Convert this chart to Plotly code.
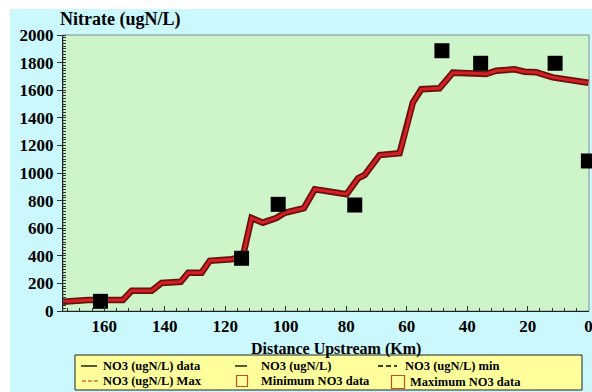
import plotly.graph_objects as go

# Model line (distance upstream km, nitrate ugN/L)
line_km = [173.6, 165.3, 153.8, 150.9, 144.3, 141.0, 134.7, 132.2, 127.8, 125.1,
           117.9, 114.2, 111.3, 107.6, 103.1, 100.3, 94.0, 90.4, 79.9, 76.1,
           73.9, 69.0, 62.4, 60.2, 58.0, 55.2, 49.2, 44.8, 38.2, 33.8,
           30.5, 24.4, 21.1, 17.3, 11.8, 5.2, 0.0]
line_val = [67, 80, 80, 147, 147, 203, 212, 278, 278, 364,
            375, 393, 674, 640, 674, 712, 745, 882, 846, 962,
            986, 1130, 1143, 1312, 1511, 1607, 1614, 1727, 1722, 1717,
            1741, 1751, 1734, 1730, 1693, 1669, 1654]

# Observed data (black squares)
obs_km = [161.2, 114.6, 102.5, 77.2, 48.4, 35.6, 11.0, 0.0]
obs_val = [70, 382, 773, 768, 1886, 1795, 1795, 1087]

x_ticks = [160, 140, 120, 100, 80, 60, 40, 20, 0]
legend_names = ["NO3 (ugN/L) data", "NO3 (ugN/L)", "NO3 (ugN/L) min",
                "NO3 (ugN/L) Max", "Minimum NO3 data", "Maximum NO3 data"]

FONT = "Liberation Serif"
CYAN = "#cbf8fd"
GREEN = "#cdf5c9"
YELLOW = "#ffff9c"

W, H = 592, 392
L, R, T, B = 63, 3, 35, 81
pw, ph = W - L - R, H - T - B


def px(x):
    return (x - L) / pw


def py(y):
    return (T + ph - y) / ph


fig = go.Figure()

# drawn model line: dark edges + red core
fig.add_trace(go.Scatter(x=line_km, y=line_val, mode="lines",
                         line=dict(color="#6a1010", width=6.5), hoverinfo="skip"))
fig.add_trace(go.Scatter(x=line_km, y=line_val, mode="lines",
                         line=dict(color="#d42020", width=3), hoverinfo="skip"))
fig.add_trace(go.Scatter(x=obs_km, y=obs_val, mode="markers",
                         marker=dict(symbol="square", color="black", size=15),
                         cliponaxis=False))

shapes = [
    # white strips at top and left of the page
    dict(type="rect", xref="paper", yref="paper", x0=px(-5), x1=px(600),
         y0=py(9), y1=py(-5), fillcolor="white", line=dict(width=0), layer="below"),
    dict(type="rect", xref="paper", yref="paper", x0=px(-5), x1=px(10),
         y0=py(400), y1=py(-5), fillcolor="white", line=dict(width=0), layer="below"),
    # plot frame
    dict(type="rect", xref="paper", yref="paper", x0=0, x1=1, y0=0, y1=1,
         line=dict(color="#7f8f8f", width=1), layer="below"),
    # legend box
    dict(type="rect", xref="paper", yref="paper", x0=px(75), x1=px(582),
         y0=py(390), y1=py(355), fillcolor=YELLOW, line=dict(color="#222", width=1)),
]
annotations = [
    dict(text="Nitrate (ugN/L)", xref="paper", yref="paper", x=px(120), y=py(20),
         xanchor="center", yanchor="middle", showarrow=False,
         font=dict(family=FONT, size=18, weight="bold")),
    dict(text="Distance Upstream (Km)", xref="paper", yref="paper", x=px(336),
         y=py(349), xanchor="center", yanchor="middle", showarrow=False,
         font=dict(family=FONT, size=16, weight="bold")),
]

row_y = [366, 366, 366, 381, 381, 382]
text_x = [101, 259, 403, 101, 259, 408]
samples = [
    ("line", 81, 97, "black", "solid"),
    ("line", 235, 247, "black", "solid"),
    ("line", 378, 397, "black", "5px,3px"),
    ("line", 82, 98, "#d8703a", "4px,2px"),
    ("sq", 242, 11, "#c84a2a", None),
    ("sq", 398, 13, "#c84a2a", None),
]
for name, ty, tx, s in zip(legend_names, row_y, text_x, samples):
    annotations.append(dict(text=name, xref="paper", yref="paper", x=px(tx), y=py(ty),
                            xanchor="left", yanchor="middle", showarrow=False,
                            font=dict(family=FONT, size=12.5, weight="bold")))
    if s[0] == "line":
        shapes.append(dict(type="line", xref="paper", yref="paper", x0=px(s[1]),
                           x1=px(s[2]), y0=py(ty), y1=py(ty),
                           line=dict(color=s[3], width=1.3, dash=s[4])))
    else:
        c, sz = s[1], s[2]
        shapes.append(dict(type="rect", xref="paper", yref="paper",
                           x0=px(c - sz / 2), x1=px(c + sz / 2),
                           y0=py(ty + sz / 2), y1=py(ty - sz / 2),
                           line=dict(color=s[3], width=1.2)))

fig.update_layout(
    width=W, height=H,
    margin=dict(l=L, r=R, t=T, b=B, autoexpand=False),
    paper_bgcolor=CYAN,
    plot_bgcolor=GREEN,
    showlegend=False,
    font=dict(family=FONT, size=17, color="black", weight="bold"),
    xaxis=dict(range=[173.6, -0.2], tickvals=x_ticks, ticklabeloverflow="allow",
               ticks="inside", ticklen=5, tickcolor="#333", showgrid=False,
               zeroline=False, showline=True, linecolor="#222", linewidth=1,
               minor=dict(tickvals=list(range(172, 0, -4)), ticks="inside",
                          ticklen=3, tickcolor="#333"),
               tickfont=dict(family=FONT, size=17, weight="bold")),
    yaxis=dict(range=[0, 2000], dtick=200, ticks="outside", ticklen=5,
               tickcolor="#333", showgrid=False, zeroline=False, showline=True,
               linecolor="#222", linewidth=1,
               minor=dict(dtick=20, ticks="inside", ticklen=3, tickcolor="#333"),
               tickfont=dict(family=FONT, size=17, weight="bold")),
    shapes=shapes,
    annotations=annotations,
)

fig.write_html("out.html")
